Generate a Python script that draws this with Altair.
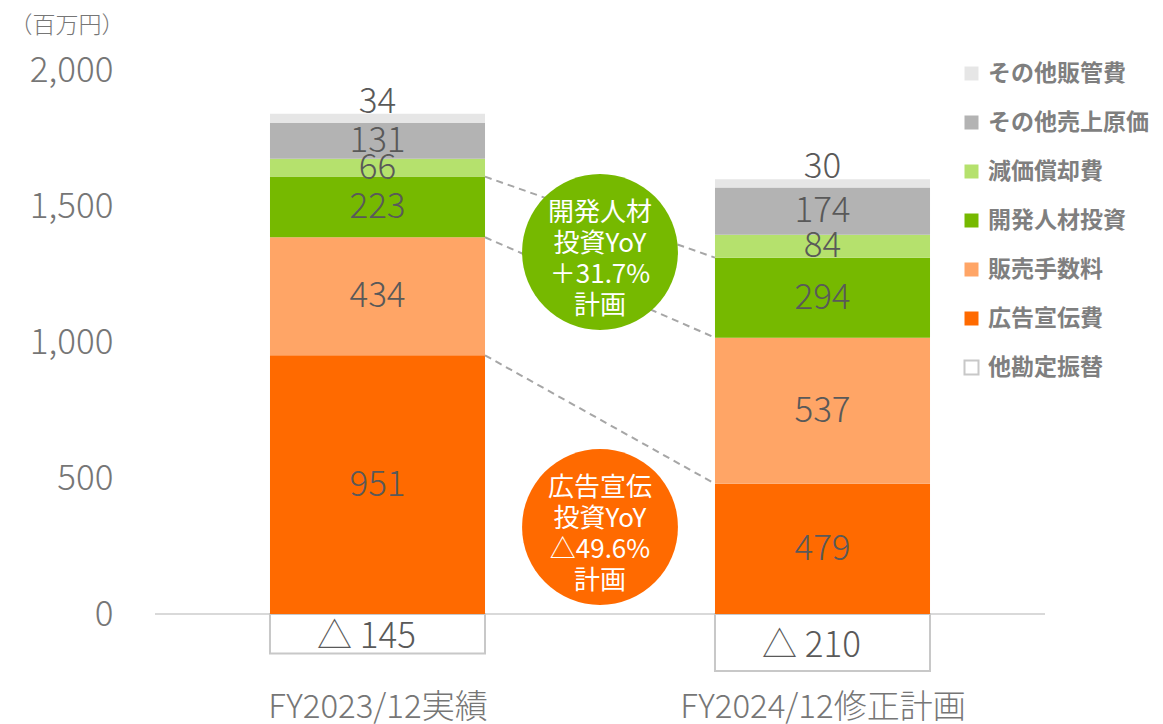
import altair as alt
import pandas as pd

# ---- data ----
categories = ["FY2023/12実績", "FY2024/12修正計画"]
series = ["その他販管費", "その他売上原価", "減価償却費", "開発人材投資", "販売手数料", "広告宣伝費", "他勘定振替"]
fy2023 = [34, 131, 66, 223, 434, 951, -145]
fy2024 = [30, 174, 84, 294, 537, 479, -210]
values = [fy2023, fy2024]

colors = ["#e6e6e6", "#b3b3b3", "#b5e16d", "#76b900", "#ffa566", "#ff6a00", "#ffffff"]
strokes = ["transparent"] * 6 + ["#c8c8c8"]

connect_series = ["開発人材投資", "販売手数料", "広告宣伝費"]

bubble_texts = ["開発人材\n投資YoY\n＋31.7%\n計画", "広告宣伝\n投資YoY\n△49.6%\n計画"]
bubble_y = [1331, 320]
bubble_colors = ["#76b900", "#ff6a00"]

# ---- styles ----
FONT = "Noto Sans CJK JP"
BAR_HALF = 0.2416
LABEL_COLOR = "#595959"
AXIS_COLOR = "#767676"

# ---- build tables ----
rows = []
tops = {}
for ci, cat in enumerate(categories):
    cum = 0
    for si in range(len(series) - 1, -1, -1):
        s = series[si]
        v = values[ci][si]
        if v >= 0:
            y0, y1 = cum, cum + v
            cum = y1
            label = str(v)
        else:
            y0, y1 = v, 0
            label = "△ " + str(-v)
        tops[(ci, s)] = y1
        rows.append(dict(cat=cat, idx=ci, x0=ci - BAR_HALF, x1=ci + BAR_HALF,
                         series=s, y0=y0, y1=y1, mid=(y0 + y1) / 2, label=label,
                         top=(si == 0), neg=(v < 0)))
df = pd.DataFrame(rows)

conn = pd.DataFrame([dict(series=s, xa=0 + BAR_HALF, xb=1 - BAR_HALF,
                          ya=tops[(0, s)], yb=tops[(1, s)]) for s in connect_series])

bub = pd.DataFrame(dict(x=[0.5, 0.5], y=bubble_y, text=bubble_texts, col=bubble_colors))

xscale = alt.Scale(domain=[-0.5, 1.5], nice=False, zero=False)
yscale = alt.Scale(domain=[-250, 2000], nice=False)

label_expr = "datum.value == 0 ? '%s' : '%s'" % (categories[0], categories[1])

legend_kw = dict(title=None, orient="none", legendX=805, legendY=-8,
                 symbolType="square", symbolSize=196, symbolStrokeWidth=2,
                 labelFontSize=23, labelFont=FONT, labelFontWeight="bold",
                 labelColor="#7f7f7f", labelOffset=5, labelLimit=0,
                 rowPadding=25, padding=0)

base = alt.Chart(df)

bars = base.mark_bar(strokeWidth=2).encode(
    x=alt.X("x0:Q", scale=xscale,
            axis=alt.Axis(values=[0, 1], labelExpr=label_expr, title=None, grid=False,
                          ticks=False, domain=False, labelFontSize=33, labelColor=AXIS_COLOR,
                          labelFont=FONT, labelFontWeight=300, labelPadding=9,
                          labelBaseline="top", labelLimit=0)),
    x2="x1:Q",
    y=alt.Y("y0:Q", scale=yscale,
            axis=alt.Axis(values=[0, 500, 1000, 1500, 2000], format=",d", grid=False,
                          ticks=False, domain=False, labelFontSize=35, labelColor=AXIS_COLOR,
                          labelFont=FONT, labelFontWeight=300, labelPadding=42, labelLimit=0,
                          title="（百万円）", titleAngle=0, titleAlign="left",
                          titleBaseline="middle", titleX=-146, titleY=-45,
                          titleFontSize=23, titleFontWeight=300, titleColor=AXIS_COLOR,
                          titleFont=FONT)),
    y2="y1:Q",
    color=alt.Color("series:N", scale=alt.Scale(domain=series, range=colors),
                    legend=alt.Legend(**legend_kw)),
    stroke=alt.Stroke("series:N", scale=alt.Scale(domain=series, range=strokes),
                      legend=alt.Legend(**legend_kw)),
)

zero = alt.Chart(pd.DataFrame({"y": [0]})).mark_rule(color="#d9d9d9", strokeWidth=2).encode(
    y=alt.Y("y:Q", scale=yscale))

inner_labels = base.transform_filter("!datum.top && !datum.neg").mark_text(
    fontSize=35, font=FONT, fontWeight=300, color=LABEL_COLOR, baseline="middle").encode(
    x=alt.X("idx:Q", scale=xscale), y=alt.Y("mid:Q", scale=yscale), text="label:N")

neg_labels = base.transform_filter("datum.neg").mark_text(
    fontSize=35, font=FONT, fontWeight=300, color=LABEL_COLOR, baseline="middle",
    dx=-11, dy=3).encode(
    x=alt.X("idx:Q", scale=xscale), y=alt.Y("mid:Q", scale=yscale), text="label:N")

top_labels = base.transform_filter("datum.top").mark_text(
    fontSize=35, font=FONT, fontWeight=300, color=LABEL_COLOR, baseline="alphabetic",
    dy=-1).encode(
    x=alt.X("idx:Q", scale=xscale), y=alt.Y("y1:Q", scale=yscale), text="label:N")

connectors = alt.Chart(conn).mark_rule(color="#a6a6a6", strokeWidth=2, strokeDash=[7, 5]).encode(
    x=alt.X("xa:Q", scale=xscale), x2="xb:Q",
    y=alt.Y("ya:Q", scale=yscale), y2="yb:Q")

circles = alt.Chart(bub).mark_circle(size=24300, opacity=1).encode(
    x=alt.X("x:Q", scale=xscale), y=alt.Y("y:Q", scale=yscale),
    color=alt.Color("col:N", scale=None, legend=None))

bub_text = alt.Chart(bub).mark_text(
    fontSize=26, font=FONT, color="white", lineBreak="\n", lineHeight=31,
    baseline="middle", dy=-39).encode(
    x=alt.X("x:Q", scale=xscale), y=alt.Y("y:Q", scale=yscale), text="text:N")

chart = alt.layer(zero, bars, connectors, circles, bub_text, inner_labels, neg_labels,
                  top_labels).properties(
    width=890, height=612,
    autosize=alt.AutoSizeParams(type="none"),
    padding={"left": 147, "top": 62, "right": 110, "bottom": 44},
).configure_view(stroke=None)

chart.save("out.html", embed_options={"renderer": "svg", "actions": False})
